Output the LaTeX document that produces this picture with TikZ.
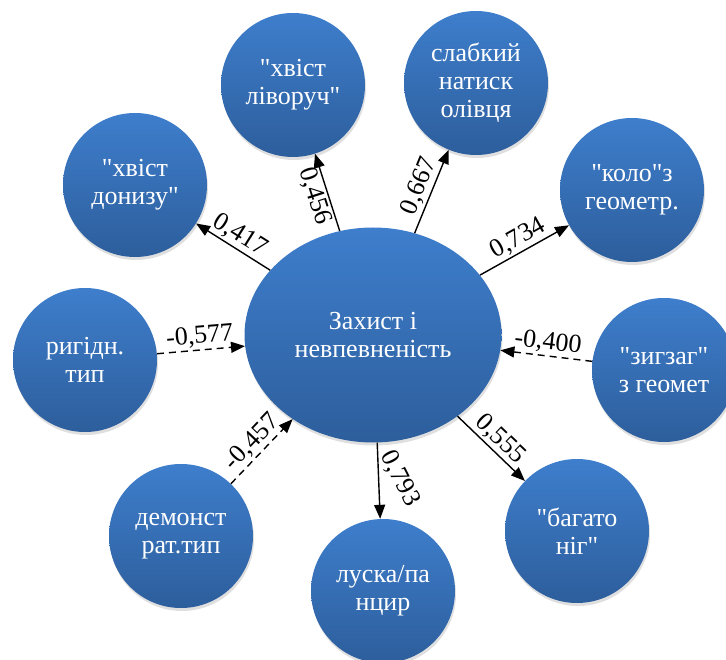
\documentclass[tikz,border=0pt]{standalone}
\usepackage{fontspec}
\setmainfont{Liberation Serif}[Ligatures=TeXOff]
\usetikzlibrary{arrows.meta,shapes.geometric,shadows}
\definecolor{nodetop}{RGB}{62,126,204}
\definecolor{nodebot}{RGB}{45,94,156}
\tikzset{
  factor/.style={circle, minimum size=144pt, inner sep=0pt, draw=none,
    top color=nodetop, bottom color=nodebot, text=white, align=center,
    font=\fontsize{26}{28}\selectfont,
    drop shadow={opacity=.25, shadow xshift=1pt, shadow yshift=-3pt}},
  core/.style={factor, ellipse, minimum width=257pt, minimum height=215pt},
  link/.style={-{Triangle[length=14pt,width=11pt]}, line width=1.4pt},
  neg/.style={link, dash pattern=on 7pt off 5pt},
  wt/.style={font=\fontsize{26}{28}\selectfont, sloped, inner sep=2pt},
}
\begin{document}
\begin{tikzpicture}[x=1pt,y=-1pt]
  \useasboundingbox (0,0) rectangle (726,660);
  % centre and the factors round it
  \node[core] (c) at (373,335) {Захист і\\невпевненість};
  \node[factor] (dn) at (135,185) {"хвіст\\донизу"};
  \node[factor] (lv) at (293,85) {"хвіст\\ліворуч"};
  \node[factor] (ol) at (476,83) {слабкий\\натиск\\олівця};
  \node[factor] (ko) at (632,190) {"коло"з\\геометр.};
  \node[factor] (zz) at (664,370) {"зигзаг"\\з геомет};
  \node[factor] (bn) at (577,531) {"багато\\ніг"};
  \node[factor] (lp) at (383,591) {луска/па\\нцир};
  \node[factor] (dm) at (181,536) {демонст\\рат.тип};
  \node[factor] (rg) at (85,360) {ригідн.\\тип};
  % links
  \draw[link] (c) -- node[wt, above] {0,417} (dn);
  \draw[link] (c) -- node[wt, below] {0,456} (lv);
  \draw[link] (c) -- node[wt, above] {0,667} (ol);
  \draw[link] (c) -- node[wt, above] {0,734} (ko);
  \draw[neg] (zz) -- node[wt, above] {-0,400} (c);
  \draw[link] (c) -- node[wt, above] {0,555} (bn);
  \draw[link] (c) -- node[font=\fontsize{26}{28}\selectfont, inner sep=2pt,
    pos=.1, anchor=west, xshift=8pt, rotate=-63] {0,793} (lp);
  \draw[neg] (dm) -- node[wt, above] {-0,457} (c);
  \draw[neg] (rg) -- node[wt, above] {-0,577} (c);
\end{tikzpicture}
\end{document}
